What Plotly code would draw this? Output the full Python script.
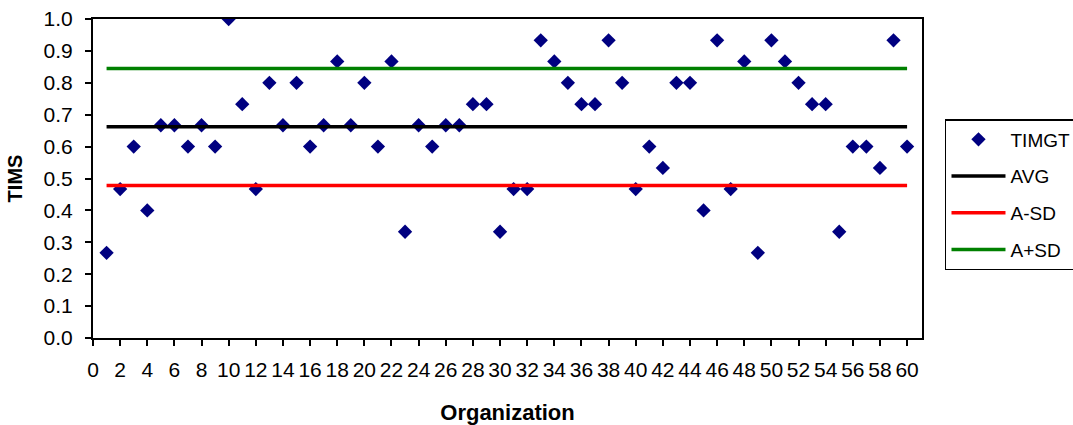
import plotly.graph_objects as go

organization = list(range(1, 61))
timgt = [0.267, 0.467, 0.600, 0.400, 0.667, 0.667, 0.600, 0.667, 0.600, 1.000,
         0.733, 0.467, 0.800, 0.667, 0.800, 0.600, 0.667, 0.867, 0.667, 0.800,
         0.600, 0.867, 0.333, 0.667, 0.600, 0.667, 0.667, 0.733, 0.733, 0.333,
         0.467, 0.467, 0.933, 0.867, 0.800, 0.733, 0.733, 0.933, 0.800, 0.467,
         0.600, 0.533, 0.800, 0.800, 0.400, 0.933, 0.467, 0.867, 0.267, 0.933,
         0.867, 0.800, 0.733, 0.733, 0.333, 0.600, 0.600, 0.533, 0.933, 0.600]
avg_value = 0.662
minus_sd_value = 0.478
plus_sd_value = 0.845

avg = [avg_value] * len(organization)
a_minus_sd = [minus_sd_value] * len(organization)
a_plus_sd = [plus_sd_value] * len(organization)

x_ticks = list(range(0, 61, 2))
y_ticks = [i / 10 for i in range(0, 11)]
y_tick_labels = [f"{v:.1f}" for v in y_ticks]

FONT = "Liberation Sans, Arial, sans-serif"

fig = go.Figure()
fig.add_trace(go.Scatter(x=organization, y=timgt, mode="markers", name="TIMGT",
                         legendgroup="a",
                         marker=dict(symbol="diamond", size=11, color="#000080")))
fig.add_trace(go.Scatter(x=organization, y=avg, mode="lines", name="AVG",
                         legendgroup="b", line=dict(color="#000000", width=3.5)))
fig.add_trace(go.Scatter(x=organization, y=a_minus_sd, mode="lines", name="A-SD",
                         legendgroup="c", line=dict(color="#FF0000", width=3.5)))
fig.add_trace(go.Scatter(x=organization, y=a_plus_sd, mode="lines", name="A+SD",
                         legendgroup="d", line=dict(color="#008000", width=3.5)))

fig.update_layout(
    width=1073, height=425,
    margin=dict(l=93, r=151, t=19, b=87),
    paper_bgcolor="white", plot_bgcolor="white",
    font=dict(family=FONT, size=21, color="black"),
    showlegend=True,
    legend=dict(xref="container", yref="container",
                x=0.8807, y=0.7200, xanchor="left", yanchor="top",
                bordercolor="black", borderwidth=1.5,
                font=dict(size=19, color="black"),
                traceorder="grouped", tracegroupgap=9,
                itemwidth=54,
                bgcolor="white"),
    xaxis=dict(range=[0, 61.1], tickmode="array", tickvals=x_ticks,
               showgrid=False, zeroline=False, showline=True, linecolor="black",
               linewidth=2, mirror=True, ticks="outside", ticklen=6,
               tickcolor="black", tickwidth=2, ticklabelstandoff=6,
               tickfont=dict(size=21), automargin=False,
               title=dict(text="<b>Organization</b>", font=dict(size=22), standoff=24)),
    yaxis=dict(range=[0, 1], tickmode="array", tickvals=y_ticks, ticktext=y_tick_labels,
               showgrid=False, zeroline=False, showline=True, linecolor="black",
               linewidth=2, mirror=True, ticks="outside", ticklen=6,
               tickcolor="black", tickwidth=2, ticklabelstandoff=8,
               tickfont=dict(size=21), automargin=False,
               title=dict(text="<b>TIMS</b>", font=dict(size=20), standoff=16)),
)

fig.write_html("out.html")
